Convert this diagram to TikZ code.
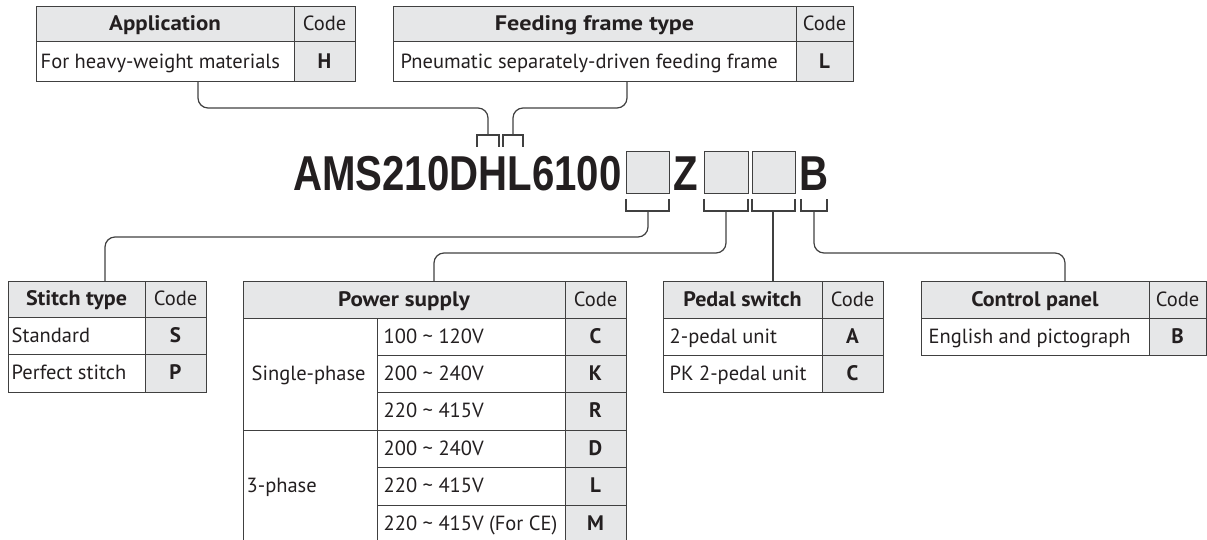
\documentclass[tikz,border=0pt]{standalone}
\usepackage{fontspec}
\setmainfont{PT Sans}
\newfontfamily\modelfont{Liberation Sans}
\usetikzlibrary{calc}
\definecolor{lc}{RGB}{64,64,64}
\definecolor{gf}{RGB}{230,231,232}
\definecolor{tc}{RGB}{35,31,32}
\tikzset{
  cellbox/.style={draw=lc, line width=1pt, inner sep=0pt, fill=white},
  hd/.style={fill=gf},
  tx/.style={text=tc, inner sep=0pt, font=\fontsize{20.5}{24}\selectfont, anchor=base},
  bx/.style={tx, font=\fontsize{21}{24}\selectfont\bfseries},
  slot/.style={draw=lc, line width=1pt, fill=gf, inner sep=0pt},
  model/.style={text=tc, inner sep=0pt, anchor=base, font=\modelfont\bfseries\fontsize{49}{50}\selectfont},
  conn/.style={draw=lc, line width=1.2pt, rounded corners=10pt},
  brk/.style={draw=lc, line width=1.2pt}
}
% name, x, y, w, h, style
\newcommand\cellnode[6]{\node[cellbox,#6,minimum width=#4pt,minimum height=#5pt] (#1) at ({#2+#4/2},{#3+#5/2}) {};}
% centered text: cell, text, style
\newcommand\ctext[3]{\node[tx,#3] (t#1) at ($(#1.center)+(0,6.5)$) {#2};}
% left text: cell, text, padding
\newcommand\ltext[3]{\node[tx,anchor=base west] (t#1) at ($(#1.west)+(#3,6.5)$) {#2};}
% wide bold header
\newcommand\hx[2]{\scalebox{#1}[1]{#2}}
\begin{document}
\begin{tikzpicture}[x=1pt,y=-1pt]
\useasboundingbox (0,0) rectangle (1207,540);
% ---------- Application ----------
\cellnode{apph}{36}{7}{258}{35}{hd}
\cellnode{appc}{294}{7}{61}{35}{hd}
\cellnode{appr}{36}{42}{258}{40}{}
\cellnode{appk}{294}{42}{61}{40}{hd}
\ctext{apph}{\hx{1.09}{Application}}{bx}
\ctext{appc}{Code}{}
\ltext{appr}{For heavy-weight materials}{5}
\ctext{appk}{H}{bx}
% ---------- Feeding frame ----------
\cellnode{fdh}{393}{7}{403}{35}{hd}
\cellnode{fdc}{796}{7}{57}{35}{hd}
\cellnode{fdr}{393}{42}{403}{40}{}
\cellnode{fdk}{796}{42}{57}{40}{hd}
\ctext{fdh}{\hx{1.15}{Feeding frame type}}{bx}
\ctext{fdc}{Code}{}
\ltext{fdr}{Pneumatic separately-driven feeding frame}{8}
\ctext{fdk}{L}{bx}
% ---------- Stitch type ----------
\cellnode{sth}{8}{281}{137}{36}{hd}
\cellnode{stc}{145}{281}{61}{36}{hd}
\cellnode{sta}{8}{317}{137}{37}{}
\cellnode{stak}{145}{317}{61}{37}{hd}
\cellnode{stb}{8}{354}{137}{38}{}
\cellnode{stbk}{145}{354}{61}{38}{hd}
\ctext{sth}{\hx{1.05}{Stitch type}}{bx}
\ctext{stc}{Code}{}
\ltext{sta}{Standard}{4}
\ctext{stak}{S}{bx}
\ltext{stb}{Perfect stitch}{4}
\ctext{stbk}{P}{bx}
% ---------- Power supply ----------
\cellnode{pwh}{243}{281}{322}{37}{hd}
\cellnode{pwc}{565}{281}{61}{37}{hd}
\cellnode{sp}{243}{318}{134}{112}{}
\cellnode{tp}{243}{430}{134}{112}{}
\cellnode{va}{377}{318}{188}{37}{}
\cellnode{vak}{565}{318}{61}{37}{hd}
\cellnode{vb}{377}{355}{188}{37}{}
\cellnode{vbk}{565}{355}{61}{37}{hd}
\cellnode{vc}{377}{392}{188}{38}{}
\cellnode{vck}{565}{392}{61}{38}{hd}
\cellnode{vd}{377}{430}{188}{37}{}
\cellnode{vdk}{565}{430}{61}{37}{hd}
\cellnode{ve}{377}{467}{188}{38}{}
\cellnode{vek}{565}{467}{61}{38}{hd}
\cellnode{vf}{377}{505}{188}{37}{}
\cellnode{vfk}{565}{505}{61}{37}{hd}
\ctext{pwh}{\hx{1.1}{Power supply}}{bx}
\ctext{pwc}{Code}{}
\ltext{sp}{Single-phase}{9}
\ltext{tp}{3-phase}{4}
\ltext{va}{100 \char`~\ 120V}{7}
\ctext{vak}{C}{bx}
\ltext{vb}{200 \char`~\ 240V}{7}
\ctext{vbk}{K}{bx}
\ltext{vc}{220 \char`~\ 415V}{7}
\ctext{vck}{R}{bx}
\ltext{vd}{200 \char`~\ 240V}{7}
\ctext{vdk}{D}{bx}
\ltext{ve}{220 \char`~\ 415V}{7}
\ctext{vek}{L}{bx}
\ltext{vf}{220 \char`~\ 415V (For CE)}{7}
\ctext{vfk}{M}{bx}
% ---------- Pedal switch ----------
\cellnode{pdh}{663}{281}{159}{37}{hd}
\cellnode{pdc}{822}{281}{61}{37}{hd}
\cellnode{pda}{663}{318}{159}{37}{}
\cellnode{pdak}{822}{318}{61}{37}{hd}
\cellnode{pdb}{663}{355}{159}{37}{}
\cellnode{pdbk}{822}{355}{61}{37}{hd}
\ctext{pdh}{\hx{1.05}{Pedal switch}}{bx}
\ctext{pdc}{Code}{}
\ltext{pda}{2-pedal unit}{7}
\ctext{pdak}{A}{bx}
\ltext{pdb}{PK 2-pedal unit}{7}
\ctext{pdbk}{C}{bx}
% ---------- Control panel ----------
\cellnode{cph}{921}{281}{228}{37}{hd}
\cellnode{cpc}{1149}{281}{57}{37}{hd}
\cellnode{cpa}{921}{318}{228}{37}{}
\cellnode{cpak}{1149}{318}{57}{37}{hd}
\ctext{cph}{\hx{1.05}{Control panel}}{bx}
\ctext{cpc}{Code}{}
\ltext{cpa}{English and pictograph}{8}
\ctext{cpak}{B}{bx}
% ---------- Model number ----------
\node[model, anchor=base west] (mdl) at (293,191) {\scalebox{0.82}[1]{AMS210DHL6100}};
\node[slot, minimum width=43pt, minimum height=42pt] (s1) at (647.5,173) {};
\node[model] (mz) at (685.5,191) {\scalebox{0.82}[1]{Z}};
\node[slot, minimum width=44pt, minimum height=42pt] (s2) at (726,173) {};
\node[slot, minimum width=43pt, minimum height=42pt] (s3) at (773.5,173) {};
\node[model] (mb) at (813.5,191) {\scalebox{0.82}[1]{B}};
% ---------- connector end points ----------
\coordinate (aS) at (198,82);
\coordinate (fS) at (627,82);
\coordinate (bH) at (488,135);
\coordinate (bL) at (513,135);
\coordinate (k1) at (648,211);
\coordinate (k2) at (726,211);
\coordinate (k3) at (773,211);
\coordinate (k4) at (814,211);
\coordinate (stT) at (105,281);
\coordinate (pwT) at (434,281);
\coordinate (pdT) at (773,281);
\coordinate (cpT) at (1065,281);
% ---------- brackets ----------
\draw[brk] (477,147) |- (bH) -| (499,147);
\draw[brk] (503,147) |- (bL) -| (523,147);
\draw[brk] (626,199) |- (k1) -| (669,199);
\draw[brk] (704,199) |- (k2) -| (748,199);
\draw[brk] (752,199) |- (k3) -| (795,199);
\draw[brk] (801,199) |- (k4) -| (827,199);
% ---------- connectors ----------
\draw[conn] (aS) |- (488,108) -- (bH);
\draw[conn] (fS) |- (513,108) -- (bL);
\draw[conn] (k1) |- (105,237) -- (stT);
\draw[conn] (k2) |- (434,253) -- (pwT);
\draw[conn] (k3) -- (pdT);
\draw[conn] (k4) |- (1065,253) -- (cpT);
\end{tikzpicture}
\end{document}
